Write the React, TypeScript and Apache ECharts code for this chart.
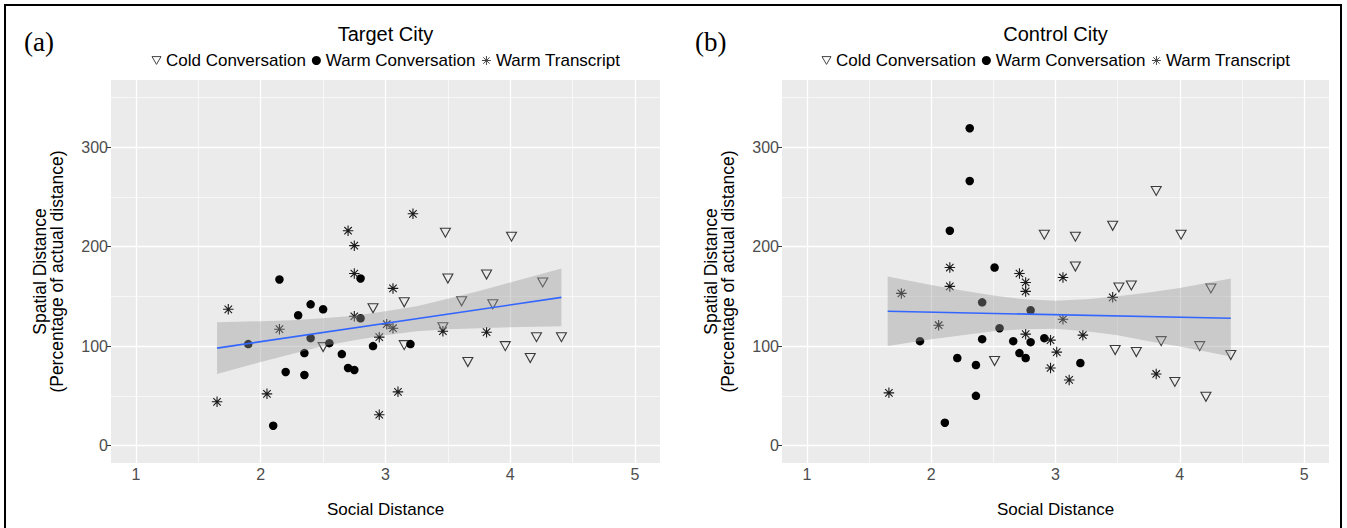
import React, { useEffect, useRef } from "react";
import * as echarts from "echarts";

// ---------- data ----------
const xTicks = [1, 2, 3, 4, 5];
const yTicks = [0, 100, 200, 300];
const xMinor = [1.5, 2.5, 3.5, 4.5];
const yMinor = [50, 150, 250, 350];

// Panel (a) Target City
const coldA_x = [3.48, 4.01, 3.5, 3.81, 4.26, 3.15, 3.61, 3.86, 2.9, 3.46, 4.21, 4.41, 3.15, 3.96, 3.66, 4.16, 2.5];
const coldA_y = [214, 210, 168, 172, 164, 144, 145, 142, 138, 119, 109, 109, 101, 100, 84, 88, 99];
const warmConvA_x = [1.9, 2.1, 2.15, 2.2, 2.3, 2.35, 2.35, 2.4, 2.4, 2.5, 2.55, 2.65, 2.7, 2.75, 2.8, 2.8, 2.9, 3.2];
const warmConvA_y = [102, 20, 167, 74, 131, 93, 71, 142, 108, 137, 103, 92, 78, 76, 168, 128, 100, 102];
const warmTransA_x = [1.65, 1.74, 2.05, 2.15, 2.7, 2.75, 2.75, 2.75, 2.95, 2.95, 3.01, 3.06, 3.06, 3.1, 3.22, 3.46, 3.81];
const warmTransA_y = [44, 137, 52, 117, 216, 201, 173, 130, 109, 31, 122, 118, 158, 54, 233, 115, 114];
const fitA_x = [1.65, 4.41];
const fitA_y = [98, 149];

// Panel (b) Control City
const coldB_x = [2.51, 2.91, 3.16, 3.16, 3.46, 3.48, 3.51, 3.61, 3.65, 3.81, 3.85, 3.96, 4.01, 4.16, 4.21, 4.25, 4.41];
const coldB_y = [85, 212, 210, 180, 221, 96, 159, 161, 94, 256, 105, 64, 212, 100, 49, 158, 91];
const warmConvB_x = [1.91, 2.11, 2.15, 2.21, 2.31, 2.31, 2.36, 2.36, 2.41, 2.41, 2.51, 2.55, 2.66, 2.71, 2.76, 2.8, 2.8, 2.91, 3.2];
const warmConvB_y = [105, 23, 216, 88, 319, 266, 81, 50, 144, 107, 179, 118, 105, 93, 88, 136, 104, 108, 83];
const warmTransB_x = [1.66, 1.76, 2.06, 2.15, 2.15, 2.71, 2.76, 2.76, 2.76, 2.96, 2.96, 3.01, 3.06, 3.06, 3.11, 3.22, 3.46, 3.81];
const warmTransB_y = [53, 153, 121, 179, 160, 173, 164, 155, 112, 106, 78, 94, 169, 127, 66, 111, 149, 72];
const fitB_x = [1.65, 4.41];
const fitB_y = [135, 128];

// Confidence bands
const band_x = [1.65, 2.0, 2.25, 2.5, 2.75, 3.0, 3.25, 3.5, 3.75, 4.0, 4.41];
const bandA_low = [72, 84, 92, 100, 106, 111, 115, 117, 118, 119, 120];
const bandA_high = [124, 125, 126, 128, 130.5, 135, 140, 147.5, 155.5, 164, 178];
const bandB_low = [100, 107, 111, 115, 117, 117.5, 115, 111, 105, 99.5, 89.5];
const bandB_high = [170, 161.5, 156, 151, 147, 145.5, 147, 150, 154, 158.5, 168];

const seriesNames = ["Cold Conversation", "Warm Conversation", "Warm Transcript"];
const panelTitles = ["Target City", "Control City"];
const panelTags = ["(a)", "(b)"];
const xTitle = "Social Distance";
const yTitle = "Spatial Distance\n(Percentage of actual distance)";

// ---------- styling ----------
const SANS = "'Liberation Sans', Arial, Helvetica, sans-serif";
const SERIF = "'Liberation Serif', 'Times New Roman', serif";
const TRI = "path://M0,0 L10,0 L5,8.66 Z";
const STAR = "path://M5,0 L5,10 M0,5 L10,5 M1.46,1.46 L8.54,8.54 M1.46,8.54 L8.54,1.46";

const grids = [
  { left: 111, top: 80, width: 549, height: 383 },
  { left: 782, top: 80, width: 547, height: 383 },
];

const zip = (xs: number[], ys: number[]) => xs.map((x, i) => [x, ys[i]]);

const triStyle = { color: "rgba(0,0,0,0)", borderColor: "#3a3a3a", borderWidth: 1.1, opacity: 1 };
const dotStyle = { color: "#000", opacity: 1 };
const starStyle = { color: "rgba(0,0,0,0)", borderColor: "#1a1a1a", borderWidth: 1.1, opacity: 1 };

function buildOption() {
  const panels = [
    { cold: zip(coldA_x, coldA_y), wc: zip(warmConvA_x, warmConvA_y), wt: zip(warmTransA_x, warmTransA_y), fit: zip(fitA_x, fitA_y), low: bandA_low, high: bandA_high },
    { cold: zip(coldB_x, coldB_y), wc: zip(warmConvB_x, warmConvB_y), wt: zip(warmTransB_x, warmTransB_y), fit: zip(fitB_x, fitB_y), low: bandB_low, high: bandB_high },
  ];

  const xAxis: any[] = [];
  const yAxis: any[] = [];
  const series: any[] = [];
  const graphic: any[] = [];

  panels.forEach((p, gi) => {
    xAxis.push({
      type: "value",
      gridIndex: gi,
      min: 0.8,
      max: 5.2,
      axisLine: { show: false },
      splitLine: { show: false },
      axisTick: { show: true, customValues: xTicks, length: 4, lineStyle: { color: "#333", width: 1 } },
      axisLabel: { customValues: xTicks, color: "#4d4d4d", fontSize: 16, fontFamily: SANS, margin: 3 },
    });
    yAxis.push({
      type: "value",
      gridIndex: gi,
      min: -17.5,
      max: 367.5,
      axisLine: { show: false },
      splitLine: { show: false },
      axisTick: { show: true, customValues: yTicks, length: 4, lineStyle: { color: "#333", width: 1 } },
      axisLabel: { customValues: yTicks, color: "#4d4d4d", fontSize: 16, fontFamily: SANS, margin: 3 },
    });

    const gridLines = [
      ...xTicks.map((v) => ({ xAxis: v, lineStyle: { width: 1.3 } })),
      ...xMinor.map((v) => ({ xAxis: v, lineStyle: { width: 0.6 } })),
      ...yTicks.map((v) => ({ yAxis: v, lineStyle: { width: 1.3 } })),
      ...yMinor.map((v) => ({ yAxis: v, lineStyle: { width: 0.6 } })),
    ];
    series.push({
      type: "line",
      xAxisIndex: gi,
      yAxisIndex: gi,
      data: [],
      z: 1,
      silent: true,
      markLine: {
        z: 1,
        silent: true,
        symbol: ["none", "none"],
        label: { show: false },
        lineStyle: { color: "#ffffff", type: "solid" },
        emphasis: { disabled: true },
        data: gridLines,
      },
    });

    series.push({
      name: seriesNames[0],
      type: "scatter",
      xAxisIndex: gi,
      yAxisIndex: gi,
      data: p.cold,
      symbol: TRI,
      symbolSize: [10, 9],
      itemStyle: triStyle,
      z: 2,
    });
    series.push({
      name: seriesNames[1],
      type: "scatter",
      xAxisIndex: gi,
      yAxisIndex: gi,
      data: p.wc,
      symbol: "circle",
      symbolSize: 8.5,
      itemStyle: dotStyle,
      z: 2,
    });
    series.push({
      name: seriesNames[2],
      type: "scatter",
      xAxisIndex: gi,
      yAxisIndex: gi,
      data: p.wt,
      symbol: STAR,
      symbolSize: 10.5,
      itemStyle: starStyle,
      z: 2,
    });

    const low = p.low;
    const high = p.high;
    series.push({
      type: "custom",
      xAxisIndex: gi,
      yAxisIndex: gi,
      silent: true,
      z: 3,
      data: band_x.map((x, i) => [x, low[i], high[i]]),
      encode: { x: 0, y: [1, 2] },
      renderItem: (params: any, api: any) => {
        if (params.dataIndex !== 0) return null;
        const top = band_x.map((x, i) => api.coord([x, high[i]]));
        const bot = band_x.map((x, i) => api.coord([x, low[i]])).reverse();
        return {
          type: "polygon",
          shape: { points: top.concat(bot) },
          style: { fill: "rgba(153,153,153,0.4)" },
        };
      },
    });
    series.push({
      type: "line",
      xAxisIndex: gi,
      yAxisIndex: gi,
      data: p.fit,
      symbol: "none",
      silent: true,
      lineStyle: { color: "#3366FF", width: 1.6 },
      z: 4,
    });

    const g = grids[gi];
    const cx = g.left + g.width / 2;
    graphic.push({
      type: "text",
      x: cx,
      y: 34,
      style: { text: panelTitles[gi], fill: "#000", font: `20px ${SANS}`, textAlign: "center", textVerticalAlign: "middle" },
    });
    graphic.push({
      type: "text",
      x: cx,
      y: 509,
      style: { text: xTitle, fill: "#000", font: `17px ${SANS}`, textAlign: "center", textVerticalAlign: "middle" },
    });
    graphic.push({
      type: "text",
      x: g.left - 63,
      y: g.top + g.height / 2,
      rotation: Math.PI / 2,
      style: { text: yTitle, fill: "#000", font: `17.5px ${SANS}`, lineHeight: 17, textAlign: "center", textVerticalAlign: "middle" },
    });
    graphic.push({
      type: "text",
      x: g.left - 87,
      y: 42,
      style: { text: panelTags[gi], fill: "#000", font: `27px ${SERIF}`, textAlign: "left", textVerticalAlign: "middle" },
    });
  });

  graphic.push({
    type: "rect",
    shape: { x: 5, y: 5, width: 1336, height: 600 },
    style: { fill: "none", stroke: "#000", lineWidth: 2 },
    silent: true,
  });

  const legendData = [
    { name: seriesNames[0], icon: TRI, itemStyle: { color: "rgba(0,0,0,0)", borderColor: "#444", borderWidth: 1, opacity: 1 } },
    { name: seriesNames[1], icon: "circle", itemStyle: { color: "#000", opacity: 1 } },
    { name: seriesNames[2], icon: STAR, itemStyle: { color: "rgba(0,0,0,0)", borderColor: "#444", borderWidth: 1, opacity: 1 } },
  ];
  const legend = grids.map((g) => ({
    left: g.left + g.width / 2 - 234,
    top: 52,
    data: legendData,
    itemWidth: 9,
    itemHeight: 9,
    itemGap: 6,
    padding: 0,
    selectedMode: false,
    textStyle: { fontSize: 17, color: "#000", fontFamily: SANS },
  }));

  return {
    animation: false,
    backgroundColor: "#ffffff",
    textStyle: { fontFamily: SANS },
    grid: grids.map((g) => ({ ...g, show: true, backgroundColor: "#EBEBEB", borderWidth: 0, containLabel: false })),
    xAxis,
    yAxis,
    legend,
    series,
    graphic,
  };
}

export default function App() {
  const ref = useRef<HTMLDivElement>(null);
  useEffect(() => {
    if (!ref.current) return;
    const chart = echarts.init(ref.current, undefined, { renderer: "svg" });
    chart.setOption(buildOption() as any);
    return () => chart.dispose();
  }, []);
  return <div ref={ref} style={{ position: "fixed", left: 0, top: 0, width: 1347, height: 528 }} />;
}
